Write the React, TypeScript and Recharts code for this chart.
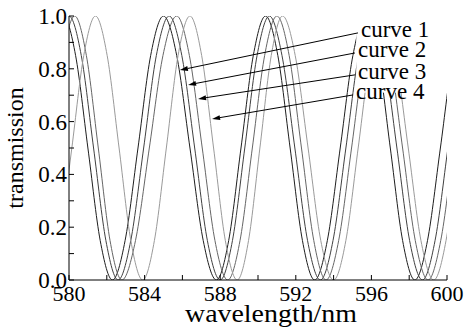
import { Line, LineChart, ReferenceLine, XAxis, YAxis } from 'recharts';

const FONT = "'Liberation Serif', 'Times New Roman', Times, serif";

const X_TICKS = [580, 582, 584, 586, 588, 590, 592, 594, 596, 598, 600];
const Y_TICKS = [0, 0.1, 0.2, 0.3, 0.4, 0.5, 0.6, 0.7, 0.8, 0.9, 1.0];

// wavelength (nm) / transmission pairs
const CURVE1_WL = [579.05, 579.7, 580.35, 581.0, 581.65, 582.3, 582.97, 583.65, 584.32, 585.0, 585.7, 586.4, 587.1, 587.8, 588.45, 589.1, 589.75, 590.4, 591.05, 591.7, 592.35, 593.0, 593.67, 594.35, 595.02, 595.7, 596.35, 597.0, 597.65, 598.3, 598.97, 599.65, 600.32, 601.0];
const CURVE1_T = [0.85, 1.0, 0.85, 0.5, 0.15, 0.0, 0.15, 0.5, 0.85, 1.0, 0.85, 0.5, 0.15, 0.0, 0.15, 0.5, 0.85, 1.0, 0.85, 0.5, 0.15, 0.0, 0.15, 0.5, 0.85, 1.0, 0.85, 0.5, 0.15, 0.0, 0.15, 0.5, 0.85, 1.0];

const CURVE2_WL = [579.35, 580.0, 580.65, 581.3, 581.95, 582.6, 583.27, 583.95, 584.62, 585.3, 585.97, 586.65, 587.32, 588.0, 588.65, 589.3, 589.95, 590.6, 591.27, 591.95, 592.62, 593.3, 593.97, 594.65, 595.32, 596.0, 596.67, 597.35, 598.02, 598.7, 599.37, 600.05, 600.72, 601.4];
const CURVE2_T = [0.85, 1.0, 0.85, 0.5, 0.15, 0.0, 0.15, 0.5, 0.85, 1.0, 0.85, 0.5, 0.15, 0.0, 0.15, 0.5, 0.85, 1.0, 0.85, 0.5, 0.15, 0.0, 0.15, 0.5, 0.85, 1.0, 0.85, 0.5, 0.15, 0.0, 0.15, 0.5, 0.85, 1.0];

const CURVE3_WL = [579.65, 580.3, 580.92, 581.55, 582.17, 582.8, 583.52, 584.25, 584.97, 585.7, 586.37, 587.05, 587.72, 588.4, 589.05, 589.7, 590.35, 591.0, 591.65, 592.3, 592.95, 593.6, 594.27, 594.95, 595.62, 596.3, 596.97, 597.65, 598.32, 599.0, 599.67, 600.35, 601.0];
const CURVE3_T = [0.85, 1.0, 0.85, 0.5, 0.15, 0.0, 0.15, 0.5, 0.85, 1.0, 0.85, 0.5, 0.15, 0.0, 0.15, 0.5, 0.85, 1.0, 0.85, 0.5, 0.15, 0.0, 0.15, 0.5, 0.85, 1.0, 0.85, 0.5, 0.15, 0.0, 0.15, 0.5, 0.85];

const CURVE4_WL = [579.52, 580.15, 580.78, 581.4, 582.02, 582.65, 583.27, 583.9, 584.52, 585.15, 585.77, 586.4, 587.02, 587.65, 588.27, 588.9, 589.5, 590.1, 590.7, 591.3, 591.97, 592.65, 593.32, 594.0, 594.65, 595.3, 595.95, 596.6, 597.27, 597.95, 598.62, 599.3, 599.95, 600.6];
const CURVE4_T = [0.15, 0.5, 0.85, 1.0, 0.85, 0.5, 0.15, 0.0, 0.15, 0.5, 0.85, 1.0, 0.85, 0.5, 0.15, 0.0, 0.15, 0.5, 0.85, 1.0, 0.85, 0.5, 0.15, 0.0, 0.15, 0.5, 0.85, 1.0, 0.85, 0.5, 0.15, 0.0, 0.15, 0.5];

const LABELS = ['curve 1', 'curve 2', 'curve 3', 'curve 4'];
const COLORS = ['#1e1e1e', '#404040', '#666666', '#9a9a9a'];
const ARROW_FROM_WL = [595.29, 595.13, 595.13, 595.03];
const ARROW_FROM_T = [0.936, 0.86, 0.777, 0.701];
const ARROW_TO_WL = [585.87, 586.3, 586.83, 587.57];
const ARROW_TO_T = [0.795, 0.739, 0.686, 0.61];

// the legend block sits on a white patch that hides the curves behind it
const PATCH_WL = [595.2, 600];
const PATCH_T = [0.71, 1.0];

const toPoints = (wl: number[], t: number[]) => wl.map((x, i) => ({ x, y: t[i] }));

const SERIES = [
  toPoints(CURVE1_WL, CURVE1_T),
  toPoints(CURVE2_WL, CURVE2_T),
  toPoints(CURVE3_WL, CURVE3_T),
  toPoints(CURVE4_WL, CURVE4_T),
];

function Arrow(props: any) {
  const { x1, y1, x2, y2, text } = props;
  const dx = x2 - x1;
  const dy = y2 - y1;
  const len = Math.sqrt(dx * dx + dy * dy) || 1;
  const ux = dx / len;
  const uy = dy / len;
  const bx = x2 - ux * 8;
  const by = y2 - uy * 8;
  const head = `${x2},${y2} ${bx - uy * 2.5},${by + ux * 2.5} ${bx + uy * 2.5},${by - ux * 2.5}`;
  return (
    <g>
      <line x1={x1} y1={y1} x2={bx} y2={by} stroke="#000" strokeWidth={1} />
      <polygon points={head} fill="#000" />
      <text x={x1 + 3} y={y1 + 4} fontFamily={FONT} fontSize={23} fill="#000">
        {text}
      </text>
    </g>
  );
}

function Patch(props: any) {
  const { x1, y1, x2, y2 } = props;
  return (
    <rect
      x={Math.min(x1, x2)}
      y={Math.min(y1, y2)}
      width={Math.abs(x2 - x1)}
      height={Math.abs(y2 - y1)}
      fill="#fff"
    />
  );
}

function XTick(props: any) {
  const { x, y, payload } = props;
  const v = payload.value;
  if (v % 4 !== 0) return null;
  return (
    <text x={x} y={y} textAnchor="middle" fontFamily={FONT} fontSize={22} fill="#000">
      {String(v)}
    </text>
  );
}

function YTick(props: any) {
  const { x, y, payload } = props;
  const v = payload.value;
  if (Math.round(v * 10) % 2 !== 0) return null;
  return (
    <text x={x} y={y + 8} textAnchor="end" fontFamily={FONT} fontSize={23} fill="#000">
      {v.toFixed(1)}
    </text>
  );
}

export default function App() {
  return (
    <div style={{ position: 'absolute', left: 0, top: 0, background: '#fff' }}>
      <LineChart width={469} height={327} margin={{ top: 16, right: 22, bottom: 0, left: 0 }}>
        {SERIES.map((data, i) => (
          <Line
            key={LABELS[i]}
            data={data}
            dataKey="y"
            type="monotone"
            stroke={COLORS[i]}
            strokeWidth={1}
            dot={false}
            activeDot={false}
            isAnimationActive={false}
          />
        ))}
        <ReferenceLine
          segment={[
            { x: PATCH_WL[0], y: PATCH_T[0] },
            { x: PATCH_WL[1], y: PATCH_T[1] },
          ]}
          ifOverflow="visible"
          shape={(p: any) => <Patch {...p} />}
        />
        {LABELS.map((name, i) => (
          <ReferenceLine
            key={name}
            segment={[
              { x: ARROW_FROM_WL[i], y: ARROW_FROM_T[i] },
              { x: ARROW_TO_WL[i], y: ARROW_TO_T[i] },
            ]}
            shape={(p: any) => <Arrow {...p} text={name} />}
          />
        ))}
        <XAxis
          dataKey="x"
          type="number"
          domain={[580, 600]}
          allowDataOverflow
          ticks={X_TICKS}
          interval={0}
          height={47}
          tickSize={-5}
          tickMargin={26}
          stroke="#000"
          tick={<XTick />}
          label={{
            content: () => (
              <text
                x={271}
                y={322}
                textAnchor="middle"
                textLength={172}
                lengthAdjust="spacingAndGlyphs"
                fontFamily={FONT}
                fontSize={25}
                fill="#000"
              >
                wavelength/nm
              </text>
            ),
          }}
        />
        <XAxis
          xAxisId="top"
          orientation="top"
          type="number"
          domain={[580, 600]}
          allowDataOverflow
          ticks={X_TICKS}
          interval={0}
          height={0}
          mirror
          tick={false}
          tickSize={5}
          stroke="#000"
        />
        <YAxis
          type="number"
          domain={[0, 1]}
          allowDataOverflow
          ticks={Y_TICKS}
          interval={0}
          width={69}
          tickSize={-5}
          tickMargin={7}
          stroke="#000"
          tick={<YTick />}
          label={{
            content: () => (
              <text
                x={23}
                y={148}
                transform="rotate(-90, 23, 148)"
                textAnchor="middle"
                fontFamily={FONT}
                fontSize={24}
                fill="#000"
              >
                transmission
              </text>
            ),
          }}
        />
        <YAxis
          yAxisId="right"
          orientation="right"
          type="number"
          domain={[0, 1]}
          allowDataOverflow
          ticks={Y_TICKS}
          interval={0}
          width={0}
          mirror
          tick={false}
          tickSize={5}
          stroke="#000"
        />
      </LineChart>
    </div>
  );
}
